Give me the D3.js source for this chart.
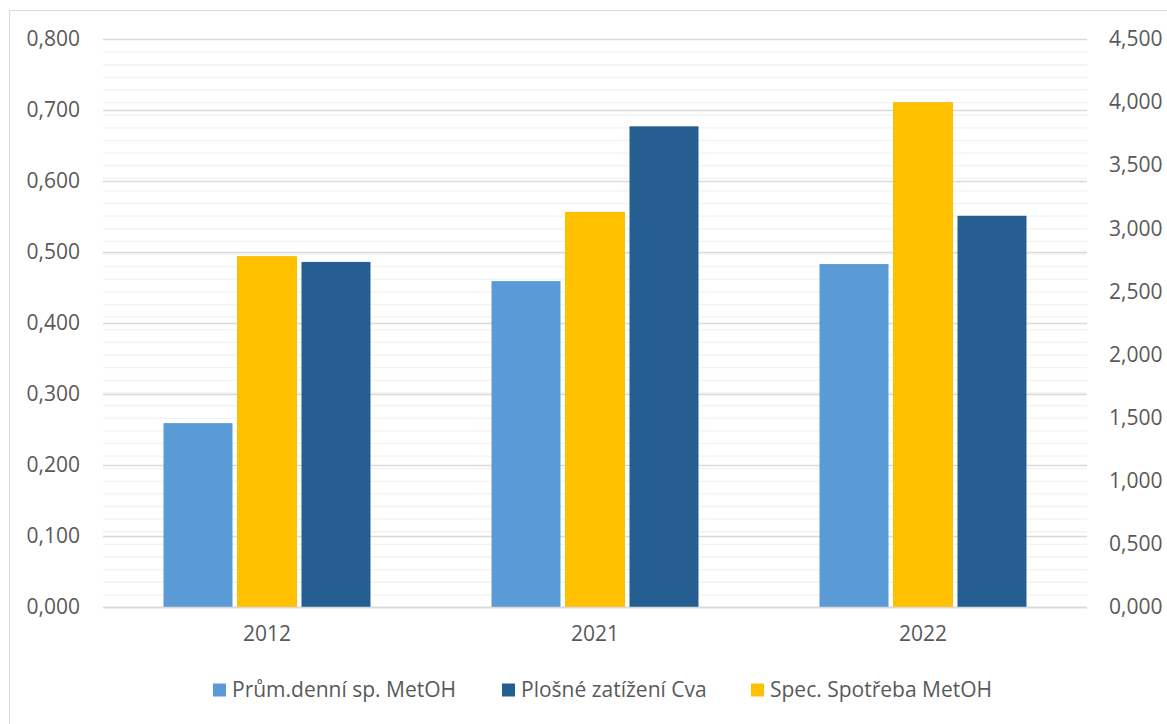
<!DOCTYPE html>
<html>
  <head>
  	<title>MetOH</title>
  	<script src="https://d3js.org/d3.v7.min.js"></script>
  	<style>
  		body { margin: 0; background: #fff; }
  		text { font-family: "Open Sans", sans-serif; fill: #595959; }
  	</style>
  </head>
  <body>
  	<div id="chartDiv"></div>
  	<script>
  		// data
  		var years = ["2012", "2021", "2022"];
  		var prumDenni = [0.259, 0.459, 0.483];      // left axis
  		var plosneZatizeni = [0.486, 0.677, 0.551]; // left axis
  		var specSpotreba = [2.78, 3.13, 4.00];      // right axis
  		var leftTicks = [0, 0.1, 0.2, 0.3, 0.4, 0.5, 0.6, 0.7, 0.8];
  		var rightTicks = [0, 0.5, 1, 1.5, 2, 2.5, 3, 3.5, 4, 4.5];
  		var rightMinor = d3.range(0, 46).map(function(d){ return d / 10; });
  		var seriesNames = ["Prům.denní sp. MetOH", "Plošné zatížení Cva", "Spec. Spotřeba MetOH"];
  		var seriesColors = ["#5b9bd5", "#255e91", "#ffc000"];

  		var W = 1167, H = 724;
  		var plot = {left: 103, right: 1087, top: 39, bottom: 607};
  		var fontSize = '21px';

  		var cz = d3.formatLocale({decimal: ",", thousands: " ", grouping: [3], currency: ["", " Kč"]});
  		var fmt = cz.format(".3f");

  		var svg = d3.select('#chartDiv')
  			.append('svg')
  			.attr('width', W)
  			.attr('height', H);

  		// chart border
  		svg.append('rect')
  			.attr('x', 9.5).attr('y', 10.5)
  			.attr('width', 1170).attr('height', 730)
  			.attr('fill', 'none')
  			.attr('stroke', '#d9d9d9');

  		// scales
  		var x = d3.scaleBand()
  			.domain(years)
  			.range([plot.left, plot.right])
  			.paddingInner(0.369)
  			.paddingOuter(0.1845);

  		var xs = d3.scaleBand()
  			.domain(["prum", "spec", "plosne"])
  			.range([0, x.bandwidth()])
  			.padding(0);

  		var yL = d3.scaleLinear().domain([0, 0.8]).range([plot.bottom, plot.top]);
  		var yR = d3.scaleLinear().domain([0, 4.5]).range([plot.bottom, plot.top]);

  		// light gridlines (right axis, every 0.1)
  		svg.append('g')
  			.attr('transform', 'translate(' + plot.left + ',0)')
  			.call(d3.axisLeft(yR).tickValues(rightMinor).tickSize(-(plot.right - plot.left)).tickFormat(''))
  			.call(function(g){ g.select('.domain').remove(); })
  			.selectAll('line')
  			.attr('stroke', '#f2f2f2')
  			.attr('stroke-width', 1.3);

  		// major gridlines (left axis)
  		svg.append('g')
  			.attr('transform', 'translate(' + plot.left + ',0)')
  			.call(d3.axisLeft(yL).tickValues(leftTicks).tickSize(-(plot.right - plot.left)).tickFormat(''))
  			.call(function(g){ g.select('.domain').remove(); })
  			.selectAll('line')
  			.attr('stroke', '#d9d9d9')
  			.attr('stroke-width', 1.3);

  		// left axis labels
  		var leftAxis = svg.append('g')
  			.attr('transform', 'translate(' + plot.left + ',0)')
  			.call(d3.axisLeft(yL).tickValues(leftTicks).tickSize(0).tickPadding(23).tickFormat(fmt));
  		leftAxis.select('.domain').remove();
  		leftAxis.selectAll('text').style('font-size', fontSize).attr('fill', '#595959').attr('font-family', null);

  		// right axis labels
  		var rightAxis = svg.append('g')
  			.attr('transform', 'translate(' + plot.right + ',0)')
  			.call(d3.axisRight(yR).tickValues(rightTicks).tickSize(0).tickPadding(22).tickFormat(fmt));
  		rightAxis.select('.domain').remove();
  		rightAxis.selectAll('text').style('font-size', fontSize).attr('fill', '#595959').attr('font-family', null);

  		// bars
  		var bars = svg.append('g');
  		bars.selectAll('rect.prum')
  			.data(prumDenni)
  			.enter().append('rect')
  			.attr('class', 'prum')
  			.attr('x', function(d, i){ return x(years[i]) + xs('prum'); })
  			.attr('y', function(d){ return yL(d); })
  			.attr('width', xs.bandwidth())
  			.attr('height', function(d){ return yL(0) - yL(d); })
  			.attr('fill', seriesColors[0]);

  		bars.selectAll('rect.plosne')
  			.data(plosneZatizeni)
  			.enter().append('rect')
  			.attr('class', 'plosne')
  			.attr('x', function(d, i){ return x(years[i]) + xs('plosne'); })
  			.attr('y', function(d){ return yL(d); })
  			.attr('width', xs.bandwidth())
  			.attr('height', function(d){ return yL(0) - yL(d); })
  			.attr('fill', seriesColors[1]);

  		// secondary axis series is a bit narrower
  		var specW = xs.bandwidth() * 0.87;
  		bars.selectAll('rect.spec')
  			.data(specSpotreba)
  			.enter().append('rect')
  			.attr('class', 'spec')
  			.attr('x', function(d, i){ return x(years[i]) + xs('spec') + (xs.bandwidth() - specW) / 2; })
  			.attr('y', function(d){ return yR(d); })
  			.attr('width', specW)
  			.attr('height', function(d){ return yR(0) - yR(d); })
  			.attr('fill', seriesColors[2]);

  		// x axis baseline + labels
  		svg.append('line')
  			.attr('x1', plot.left).attr('x2', plot.right)
  			.attr('y1', plot.bottom + 0.5).attr('y2', plot.bottom + 0.5)
  			.attr('stroke', '#d9d9d9')
  			.attr('stroke-width', 1.3);

  		var xAxis = svg.append('g')
  			.attr('transform', 'translate(0,' + plot.bottom + ')')
  			.call(d3.axisBottom(x).tickSize(0).tickPadding(19));
  		xAxis.select('.domain').remove();
  		xAxis.selectAll('text').style('font-size', fontSize).attr('fill', '#595959').attr('font-family', null);

  		// legend
  		var legendX = [213, 502, 751];
  		var legend = svg.append('g');
  		var item = legend.selectAll('g')
  			.data(seriesNames)
  			.enter().append('g')
  			.attr('transform', function(d, i){ return 'translate(' + legendX[i] + ',690)'; });
  		item.append('rect')
  			.attr('x', 0).attr('y', -6.5)
  			.attr('width', 13).attr('height', 13)
  			.attr('fill', function(d, i){ return seriesColors[i]; });
  		item.append('text')
  			.attr('x', 19)
  			.attr('dy', '0.35em')
  			.style('font-size', fontSize)
  			.text(function(d){ return d; });
  	</script>
  </body>
</html>
